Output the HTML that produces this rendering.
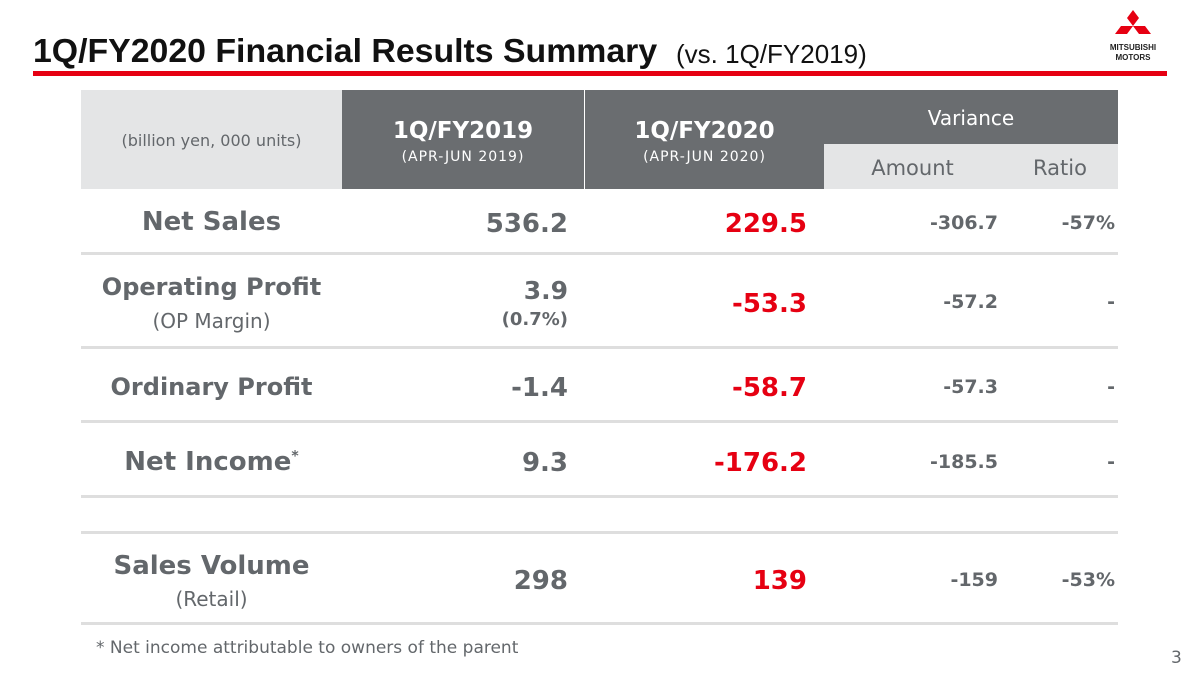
<!DOCTYPE html>
<html><head><meta charset="utf-8"><style>
body{margin:0;width:1200px;height:674px;background:#fff;position:relative;overflow:hidden;font-family:"DejaVu Sans","Liberation Sans",sans-serif;color:#63676b}
.a{position:absolute;white-space:nowrap}
.c{text-align:center}
.r{text-align:right}
.b{font-weight:bold}
.red{color:#e60012}
.sep{position:absolute;left:81px;width:1037px;height:3px;background:#dedede}
</style></head><body>
<div class="a" style="left:33px;top:32px;font-family:'Liberation Sans',sans-serif;font-size:33px;font-weight:bold;color:#111;transform:scaleX(1.025);transform-origin:left">1Q/FY2020 Financial Results Summary</div>
<div class="a" style="left:676px;top:39px;font-family:'Liberation Sans',sans-serif;font-size:26px;color:#111;transform:scaleX(1.0);transform-origin:left">(vs. 1Q/FY2019)</div>
<div class="a" style="left:33px;top:71px;width:1134px;height:5px;background:#e60012"></div>
<svg class="a" style="left:1115px;top:10px" width="36" height="30" viewBox="0 0 36 30"><polygon points="18,0 24,8 18,16 12,8" fill="#e60012"/><polygon points="18,16 6,16 0,24 12,24" fill="#e60012"/><polygon points="18,16 30,16 36,24 24,24" fill="#e60012"/></svg>
<div class="a c b" style="left:1101px;top:43px;width:64px;font-size:8px;line-height:10px;color:#222;font-family:'Liberation Sans',sans-serif">MITSUBISHI<br>MOTORS</div>

<div class="a" style="left:81px;top:90px;width:261px;height:99px;background:#e4e5e6"></div>
<div class="a" style="left:342px;top:90px;width:242px;height:99px;background:#6a6d70"></div>
<div class="a" style="left:585px;top:90px;width:239px;height:99px;background:#6a6d70"></div>
<div class="a" style="left:824px;top:90px;width:294px;height:54px;background:#6a6d70"></div>
<div class="a" style="left:824px;top:144px;width:294px;height:45px;background:#e4e5e6"></div>
<div class="a c" style="left:81px;top:131px;width:261px;font-size:16px">(billion yen, 000 units)</div>
<div class="a c b" style="left:342px;top:118px;width:242px;font-size:23px;color:#fff">1Q/FY2019</div>
<div class="a c" style="left:342px;top:149px;width:242px;font-size:14px;color:#fff;letter-spacing:1px">(APR-JUN 2019)</div>
<div class="a c b" style="left:585px;top:118px;width:239px;font-size:23px;color:#fff">1Q/FY2020</div>
<div class="a c" style="left:585px;top:149px;width:239px;font-size:14px;color:#fff;letter-spacing:1px">(APR-JUN 2020)</div>
<div class="a c" style="left:824px;top:106px;width:294px;font-size:20px;color:#fff">Variance</div>
<div class="a c" style="left:850px;top:156px;width:125px;font-size:21px">Amount</div>
<div class="a c" style="left:1010px;top:156px;width:100px;font-size:21px">Ratio</div>

<div class="sep" style="top:252px"></div>
<div class="sep" style="top:346px"></div>
<div class="sep" style="top:420px"></div>
<div class="sep" style="top:495px"></div>
<div class="sep" style="top:531px"></div>
<div class="sep" style="top:622px"></div>

<div class="a c b" style="left:81px;top:207px;width:261px;font-size:26px">Net Sales</div>
<div class="a r b" style="left:400px;top:209px;width:168px;font-size:26px">536.2</div>
<div class="a r b red" style="left:640px;top:209px;width:167px;font-size:26px">229.5</div>
<div class="a r b" style="left:850px;top:212px;width:148px;font-size:19px">-306.7</div>
<div class="a r b" style="left:1010px;top:212px;width:105px;font-size:19px">-57%</div>

<div class="a c b" style="left:81px;top:273px;width:261px;font-size:24px">Operating Profit</div>
<div class="a c" style="left:81px;top:309px;width:261px;font-size:20px">(OP Margin)</div>
<div class="a r b" style="left:400px;top:276px;width:168px;font-size:25px">3.9</div>
<div class="a r b" style="left:400px;top:309px;width:168px;font-size:18px">(0.7%)</div>
<div class="a r b red" style="left:640px;top:289px;width:167px;font-size:26px">-53.3</div>
<div class="a r b" style="left:850px;top:291px;width:148px;font-size:19px">-57.2</div>
<div class="a r b" style="left:1010px;top:291px;width:105px;font-size:19px">-</div>

<div class="a c b" style="left:81px;top:373px;width:261px;font-size:24px">Ordinary Profit</div>
<div class="a r b" style="left:400px;top:373px;width:168px;font-size:26px">-1.4</div>
<div class="a r b red" style="left:640px;top:373px;width:167px;font-size:26px">-58.7</div>
<div class="a r b" style="left:850px;top:376px;width:148px;font-size:19px">-57.3</div>
<div class="a r b" style="left:1010px;top:376px;width:105px;font-size:19px">-</div>

<div class="a c b" style="left:81px;top:447px;width:261px;font-size:26px">Net Income<sup style="font-size:14px">*</sup></div>
<div class="a r b" style="left:400px;top:448px;width:168px;font-size:26px">9.3</div>
<div class="a r b red" style="left:640px;top:448px;width:167px;font-size:26px">-176.2</div>
<div class="a r b" style="left:850px;top:451px;width:148px;font-size:19px">-185.5</div>
<div class="a r b" style="left:1010px;top:451px;width:105px;font-size:19px">-</div>

<div class="a c b" style="left:81px;top:551px;width:261px;font-size:26px">Sales Volume</div>
<div class="a c" style="left:81px;top:587px;width:261px;font-size:20px">(Retail)</div>
<div class="a r b" style="left:400px;top:566px;width:168px;font-size:26px">298</div>
<div class="a r b red" style="left:640px;top:566px;width:167px;font-size:26px">139</div>
<div class="a r b" style="left:850px;top:569px;width:148px;font-size:19px">-159</div>
<div class="a r b" style="left:1010px;top:569px;width:105px;font-size:19px">-53%</div>

<div class="a" style="left:96px;top:638px;font-size:17px">* Net income attributable to owners of the parent</div>
<div class="a" style="left:1171px;top:648px;font-size:17px">3</div>
</body></html>
